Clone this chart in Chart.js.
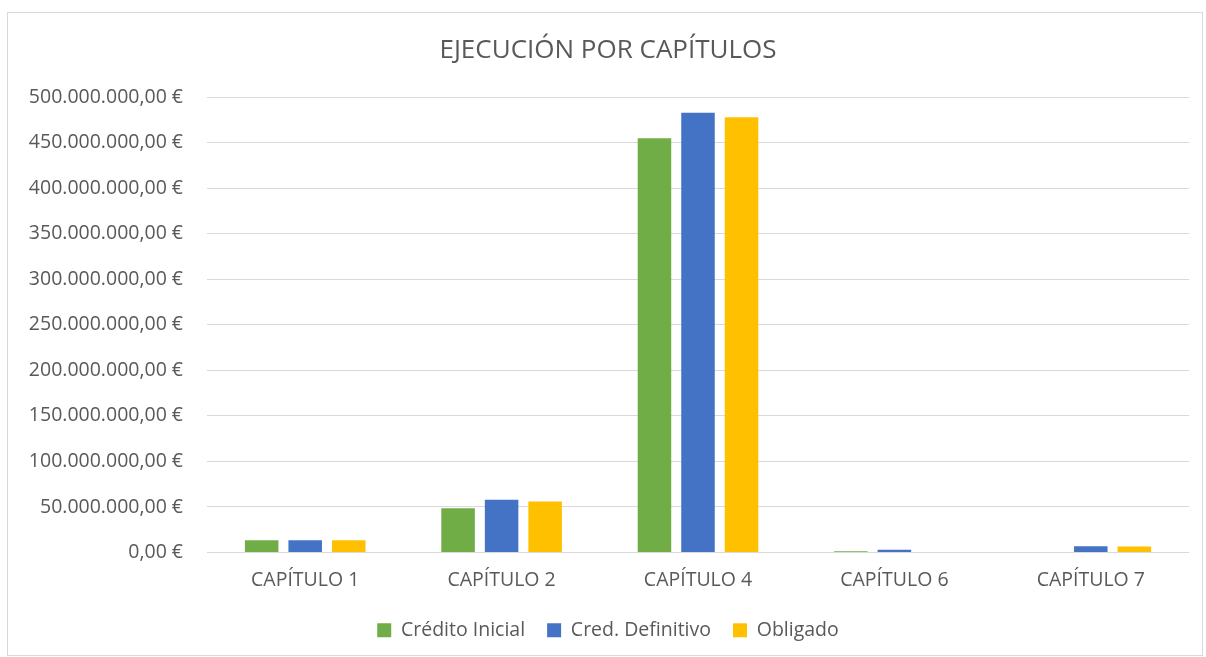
<!DOCTYPE html>
<html>
<head>
<meta charset="utf-8">
<script src="https://cdn.jsdelivr.net/npm/chart.js@4.4.1/dist/chart.umd.min.js"></script>
<style>
  html, body { margin: 0; padding: 0; background: #fff; overflow: hidden; width: 1206px; height: 657px; }
  #frame {
    position: absolute; left: 7px; top: 12px; width: 1196px; height: 644px;
    border: 1px solid #d9d9d9; box-sizing: border-box;
  }
  #chart { position: absolute; left: 8px; top: 13px; display: block; }
</style>
</head>
<body>
<div id="frame"></div>
<canvas id="chart" width="1194" height="660"></canvas>
<script>
const categories = ["CAPÍTULO 1", "CAPÍTULO 2", "CAPÍTULO 4", "CAPÍTULO 6", "CAPÍTULO 7"];
const creditoInicial = [13500000, 48500000, 455000000, 1500000, 0];
const credDefinitivo = [13500000, 58000000, 483000000, 3000000, 7000000];
const obligado = [13500000, 56000000, 478000000, 0, 6500000];
const yMax = 500000000;
const yStep = 50000000;

function euro(v) {
  const int = Math.round(v).toString().replace(/\B(?=(\d{3})+(?!\d))/g, ".");
  return int + ",00 €";
}

const font = "'Open Sans', 'Noto Sans', sans-serif";
const grey = "#595959";

new Chart(document.getElementById("chart"), {
  type: "bar",
  data: {
    labels: categories,
    datasets: [
      { label: "Crédito Inicial", data: creditoInicial, backgroundColor: "#70ad47" },
      { label: "Cred. Definitivo", data: credDefinitivo, backgroundColor: "#4472c4" },
      { label: "Obligado", data: obligado, backgroundColor: "#ffc000" }
    ]
  },
  options: {
    responsive: false,
    animation: false,
    categoryPercentage: 0.665,
    barPercentage: 0.77,
    layout: { padding: { left: 19, right: 13, top: 0, bottom: 23 } },
    plugins: {
      title: {
        display: true,
        text: "EJECUCIÓN POR CAPÍTULOS",
        color: grey,
        font: { family: font, size: 26, weight: "normal" },
        padding: { top: 22, bottom: 31 }
      },
      legend: {
        position: "bottom",
        labels: {
          color: grey,
          font: { family: font, size: 19.5 },
          boxWidth: 14,
          boxHeight: 14,
          padding: 22
        }
      },
      tooltip: { enabled: false }
    },
    scales: {
      x: {
        grid: { display: false, drawTicks: false },
        border: { display: false },
        ticks: { color: grey, font: { family: font, size: 19.5 }, padding: 16 },
        afterFit: (s) => { s.height = 46; }
      },
      y: {
        min: 0,
        max: yMax,
        grid: { color: "#d9d9d9", drawTicks: false },
        border: { display: false },
        ticks: {
          stepSize: yStep,
          color: grey,
          font: { family: font, size: 19.5 },
          padding: 24,
          callback: (v) => euro(v)
        },
        afterFit: (s) => { s.width = 180; }
      }
    }
  }
});
</script>
</body>
</html>
